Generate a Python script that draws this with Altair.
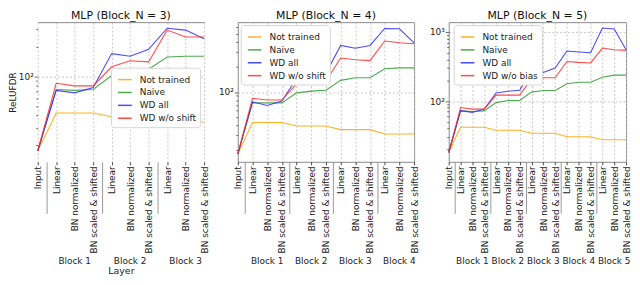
import altair as alt
import pandas as pd

FONT = "DejaVu Sans"

layer_names = ["Linear", "BN normalized", "BN scaled & shifted"]
input_name = "Input"
block_labels = ["Block 1", "Block 2", "Block 3", "Block 4", "Block 5"]
titles = ["MLP (Block_N = 3)", "MLP (Block_N = 4)", "MLP (Block_N = 5)"]
series_a = ["Not trained", "Naive", "WD all", "WD w/o shift"]
series_b = ["Not trained", "Naive", "WD all", "WD w/o bias"]
colors = ["#FFA500", "#2E9B2E", "#2B2BFF", "#FF2B2B"]

# Panel 1 (Block_N = 3)
p1_not_trained = [17.5, 42.5, 42.5, 42.5, 39, 39, 39, 34.5, 34.5, 34.5]
p1_naive = [17.5, 73.5, 72, 73.5, 102, 108, 118, 157, 160, 160]
p1_wd_all = [17.5, 72, 68, 77, 170, 160, 188, 307, 294, 240]
p1_wd_wo = [17.5, 85, 80, 80, 125, 144, 140, 294, 250, 250]

# Panel 2 (Block_N = 4)
p2_not_trained = [18, 43, 43, 43, 39, 39, 39, 35.3, 35.3, 35.3, 31.3, 31.3, 31.3]
p2_naive = [18, 74, 74, 74, 97.6, 102.5, 105, 138, 148.6, 148.6, 190, 195, 195]
p2_wd_all = [18, 76, 69, 78, 145, 143, 168, 362, 336, 362, 580, 575, 390]
p2_wd_wo = [18, 84, 80, 80, 125, 134.6, 134.6, 256, 244, 238, 410, 390, 380]

# Panel 3 (Block_N = 5)
p3_not_trained = [18, 41.8, 41.8, 41.8, 37.8, 37.8, 37.8, 34.2, 34.2, 34.2,
                  30.4, 30.4, 30.4, 27.5, 27.5, 27.5]
p3_naive = [18, 72, 70.5, 72, 95, 102, 102, 134.7, 141.8, 141.8, 177.6, 187, 187,
            221, 237, 237]
p3_wd_all = [18, 72.7, 68.5, 76.5, 130.8, 138.8, 143, 275, 259, 301, 530, 514, 500,
             1140, 1107, 553]
p3_wd_wo = [18, 80.5, 76.5, 76.5, 122, 122, 122, 210, 217, 217, 374, 363, 356,
            585, 553, 541]

y_ticks_1 = [20, 30, 40, 50, 60, 70, 80, 90, 100, 200, 300]
y_ticks_2 = [20, 30, 40, 50, 60, 70, 80, 90, 100, 200, 300, 400, 500, 600]
y_ticks_3 = [20, 30, 40, 50, 60, 70, 80, 90, 100, 200, 300, 400, 500, 600, 700,
             800, 900, 1000]
y_domain_1 = [13.6, 354]
y_domain_2 = [14.5, 690]
y_domain_3 = [13.2, 1387]

H = 141
GRID = "#b8b8b8"
FRAME = "#8a8a8a"


def panel(n_blocks, names, arrays, ydomain, yticks, width, title, lx, ly, first):
    rows = []
    for name, arr in zip(names, arrays):
        for i, v in enumerate(arr):
            rows.append({"idx": i, "value": v, "series": name})
    df = pd.DataFrame(rows)
    n_pts = 3 * n_blocks
    xvals = list(range(0, n_pts + 1)) + [3 * b + 0.5 for b in range(n_blocks)]
    arr_js = "[" + ",".join("'" + s + "'" for s in
                            [layer_names[2], layer_names[0], layer_names[1]]) + "]"
    label_expr = ("datum.value % 1 != 0 ? '' : (datum.value == 0 ? '" + input_name +
                  "' : " + arr_js + "[datum.value % 3])")
    is_sep = "datum.value % 1 != 0"
    xaxis = alt.Axis(
        values=xvals, labelExpr=label_expr, labelAngle=-90, labelFontSize=9,
        labelFont=FONT, labelColor="#222", labelPadding=1, labelOverlap=False,
        labelFlush=False, labelBound=False,
        tickSize={"condition": {"test": is_sep, "value": 52}, "value": 3},
        tickColor={"condition": {"test": is_sep, "value": "#999"}, "value": "#444"},
        tickWidth=1,
        grid=True, gridColor=GRID, gridDash=[2, 2], gridWidth=0.8,
        gridOpacity={"condition": {"test": is_sep, "value": 0}, "value": 1},
        domain=False,
        title="Layer" if first else None, titleFont=FONT, titleFontSize=9.5,
        titleFontWeight="normal", titleColor="#222", titlePadding=13,
    )
    is_major = "datum.value == 100 || datum.value == 1000"
    yaxis = alt.Axis(
        values=yticks,
        labelExpr="datum.value == 100 ? '10²' : datum.value == 1000 ? '10³' : ''",
        labelFontSize=9, labelFont=FONT, labelColor="#222", labelPadding=1,
        labelOverlap=False,
        tickSize={"condition": {"test": is_major, "value": 3.5}, "value": 2},
        tickColor="#444", tickWidth=0.8,
        grid=True, gridColor=GRID, gridDash=[2, 2], gridWidth=0.8,
        gridOpacity={"condition": {"test": is_major, "value": 1}, "value": 0},
        domain=False,
        title="ReLUFDR" if first else None, titleFont=FONT, titleFontSize=9,
        titleFontWeight="normal", titleColor="#222", titlePadding=1,
    )
    xscale = alt.Scale(domain=[0, n_pts], nice=False, zero=False)
    lines = alt.Chart(df).mark_line(strokeWidth=1.1, opacity=0.85).encode(
        x=alt.X("idx:Q", scale=xscale, axis=xaxis),
        y=alt.Y("value:Q", scale=alt.Scale(type="log", domain=ydomain, nice=False),
                axis=yaxis),
        color=alt.Color("series:N", sort=names,
                        scale=alt.Scale(domain=names, range=colors),
                        legend=alt.Legend(
                            orient="none", legendX=lx, legendY=ly, title=None,
                            symbolType="stroke", symbolStrokeWidth=1.5,
                            symbolSize=190, labelFontSize=9, labelFont=FONT,
                            labelColor="#222", fillColor="white",
                            strokeColor="#d6d6d6", padding=4, cornerRadius=3,
                            rowPadding=0, symbolOffset=2, labelOffset=7)),
        detail="series:N",
    )
    bdf = pd.DataFrame({"c": [3 * b + 2 for b in range(n_blocks)],
                        "t": block_labels[:n_blocks]})
    if first:
        t_axis = alt.Axis(orient="top", labels=False, ticks=False, grid=False,
                          title=None, domain=True, domainColor=FRAME)
    else:
        t_axis = xaxis
    texts = alt.Chart(bdf).mark_text(fontSize=9, font=FONT, color="#222",
                                     baseline="middle").encode(
        x=alt.X("c:Q", scale=xscale, axis=t_axis),
        y=alt.value(H + 100),
        text="t:N",
    )
    layer = alt.layer(lines, texts).properties(
        width=width, height=H,
        title=alt.TitleParams(title, fontSize=11, fontWeight="normal", font=FONT,
                              color="#111", offset=1),
    )
    if first:
        layer = layer.resolve_axis(x="independent")
    else:
        layer = layer.properties(view=alt.ViewBackground(stroke=FRAME, strokeWidth=1))
    return layer


c1 = panel(3, series_a, [p1_not_trained, p1_naive, p1_wd_all, p1_wd_wo], y_domain_1,
           y_ticks_1, 168, titles[0], 74, 46, True)
c2 = panel(4, series_a, [p2_not_trained, p2_naive, p2_wd_all, p2_wd_wo], y_domain_2,
           y_ticks_2, 178, titles[1], 3, 3, False)
c3 = panel(5, series_b, [p3_not_trained, p3_naive, p3_wd_all, p3_wd_wo], y_domain_3,
           y_ticks_3, 179, titles[2], 5, 3, False)

chart = alt.hconcat(c1, c2, c3, spacing=8).resolve_scale(
    color="independent", x="independent", y="independent"
).properties(
    padding={"left": 0, "top": 0, "right": 0, "bottom": 0}
).configure(font=FONT).configure_view(stroke=None)

chart.save("out.html", embed_options={"renderer": "svg", "actions": False})
